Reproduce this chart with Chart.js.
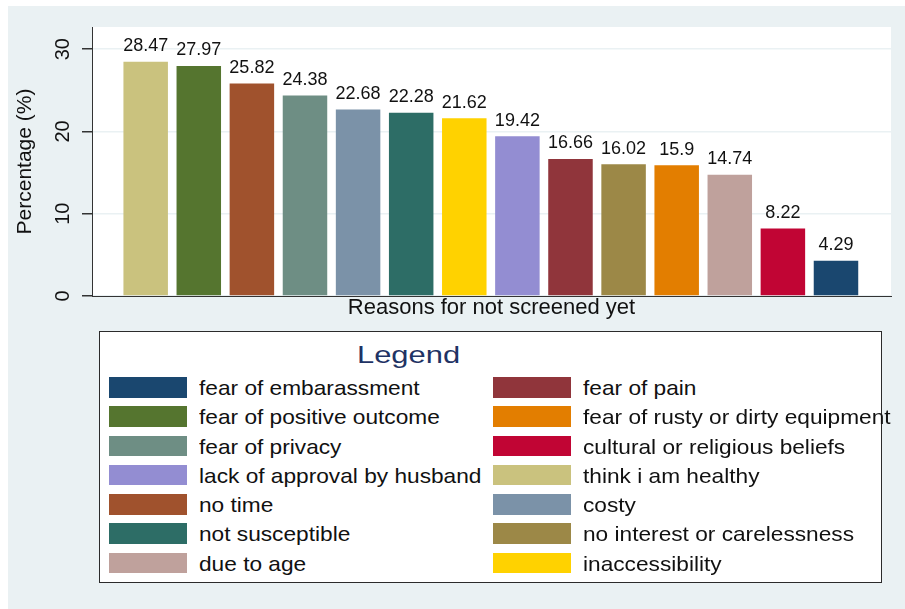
<!DOCTYPE html>
<html><head><meta charset="utf-8">
<script src="https://cdn.jsdelivr.net/npm/chart.js@4.4.1/dist/chart.umd.min.js"></script>
<style>
html,body{margin:0;padding:0;background:#fff;}
#wrap{position:relative;width:905px;height:609px;overflow:hidden;}
canvas{position:absolute;left:0;top:0;}
#legend{position:absolute;left:99px;top:331px;width:783px;height:252px;box-sizing:border-box;border:1px solid #2b2b2b;background:#fff;}
.lg-title,.lg-text{position:absolute;white-space:nowrap;font-family:"Liberation Sans",Arial,sans-serif;line-height:1;transform-origin:0 50%;}
.lg-title{font-size:24px;color:#1f3364;transform:scaleX(1.287);}
.lg-text{font-size:21px;color:#111;transform:scaleX(1.08);}
.lg-sw{position:absolute;width:78px;height:20.5px;}
</style></head>
<body><div id="wrap"><canvas id="c" width="905" height="609"></canvas><div id="legend"></div></div>
<script>
// ---- data ----
const categories = ["think i am healthy","fear of positive outcome","no time","fear of privacy","costy","not susceptible","inaccessibility","lack of approval by husband","fear of pain","no interest or carelessness","fear of rusty or dirty equipment","due to age","cultural or religious beliefs","fear of embarassment"];
const values = [28.47, 27.97, 25.82, 24.38, 22.68, 22.28, 21.62, 19.42, 16.66, 16.02, 15.9, 14.74, 8.22, 4.29];
const barColors = ["#CAC27E","#55752F","#A0522D","#6E8E84","#7B92A8","#2D6D66","#FFD200","#938DD2","#90353B","#9C8847","#E37E00","#BFA19C","#C10534","#1A476F"];
const legendOrder = ["fear of embarassment","fear of positive outcome","fear of privacy","lack of approval by husband","no time","not susceptible","due to age","fear of pain","fear of rusty or dirty equipment","cultural or religious beliefs","think i am healthy","costy","no interest or carelessness","inaccessibility"];
const yTicks = [0, 10, 20, 30];
const xTitle = "Reasons for not screened yet";
const yTitle = "Percentage (%)";
const legendTitle = "Legend";

const FONT = '"Liberation Sans", Arial, sans-serif';
Chart.defaults.font.family = FONT;
Chart.defaults.color = '#111';

const bgPlugin = {
  id: 'bg',
  beforeDraw(chart) {
    const {ctx, chartArea: a} = chart;
    ctx.save();
    ctx.fillStyle = '#fff';
    ctx.fillRect(0, 0, chart.width, chart.height);
    ctx.fillStyle = '#EAF1F3';
    ctx.fillRect(8, 6, chart.width - 8, chart.height - 6);
    ctx.fillStyle = '#fff';
    ctx.fillRect(a.left, a.top, a.right - a.left, a.bottom - a.top);
    ctx.restore();
  }
};

const labelPlugin = {
  id: 'vals',
  afterDatasetsDraw(chart) {
    const {ctx} = chart;
    const meta = chart.getDatasetMeta(0);
    ctx.save();
    ctx.font = '18px ' + FONT;
    ctx.fillStyle = '#111';
    ctx.textAlign = 'center';
    ctx.textBaseline = 'alphabetic';
    meta.data.forEach((el, i) => {
      ctx.fillText(String(values[i]), el.x, el.y - 10.5);
    });
    ctx.restore();
  }
};

const chart = new Chart(document.getElementById('c'), {
  type: 'bar',
  data: {
    datasets: [{
      label: 'Percentage',
      data: values.map((v, i) => ({x: i, y: v})),
      backgroundColor: barColors,
      borderWidth: 0,
      barPercentage: 0.838,
      categoryPercentage: 1
    }]
  },
  options: {
    responsive: false,
    animation: false,
    devicePixelRatio: 1,
    layout: {padding: {left: 0, top: 27, right: 14, bottom: 287.6}},
    plugins: {legend: {display: false}, tooltip: {enabled: false}},
    scales: {
      x: {
        type: 'linear', min: -1.011, max: 14.036, offset: false,
        grid: {display: false, drawTicks: false},
        ticks: {display: false},
        border: {display: true, color: '#333', width: 1},
        title: {display: true, text: xTitle, color: '#111', font: {size: 22}, padding: {top: -1, bottom: 0}}
      },
      y: {
        min: 0, max: 32.7,
        afterBuildTicks(s) { s.ticks = yTicks.map(v => ({value: v})); },
        afterFit(s) { s.width = 92; },
        grid: {color: '#EAF1F3', lineWidth: 1.5, tickColor: '#333', tickLength: 10, drawTicks: true},
        border: {color: '#333', width: 1},
        ticks: {color: '#111', font: {size: 20}, minRotation: 90, maxRotation: 90, crossAlign: 'center', padding: 7},
        title: {display: true, text: yTitle, color: '#111', font: {size: 21}, padding: {top: 12.4, bottom: 0}}
      }
    }
  },
  plugins: [bgPlugin, labelPlugin]
});

// ---- HTML legend built from the chart's data ----
(function buildLegend() {
  const box = document.getElementById('legend');
  const t = document.createElement('div');
  t.className = 'lg-title';
  t.textContent = legendTitle;
  t.style.left = '257px';
  t.style.top = '11px';
  box.appendChild(t);
  const perCol = Math.ceil(legendOrder.length / 2);
  legendOrder.forEach((name, k) => {
    const col = Math.floor(k / perCol), row = k % perCol;
    const idx = categories.indexOf(name);
    const color = chart.data.datasets[0].backgroundColor[idx];
    const sx = col === 0 ? 9 : 393;
    const sy = 45 + row * 29.27;
    const sw = document.createElement('div');
    sw.className = 'lg-sw';
    sw.style.left = sx + 'px';
    sw.style.top = sy + 'px';
    sw.style.background = color;
    box.appendChild(sw);
    const tx = document.createElement('div');
    tx.className = 'lg-text';
    tx.textContent = name;
    tx.style.left = (sx + 90) + 'px';
    tx.style.top = sy + 'px';
    box.appendChild(tx);
  });
})();
</script>
</body></html>
